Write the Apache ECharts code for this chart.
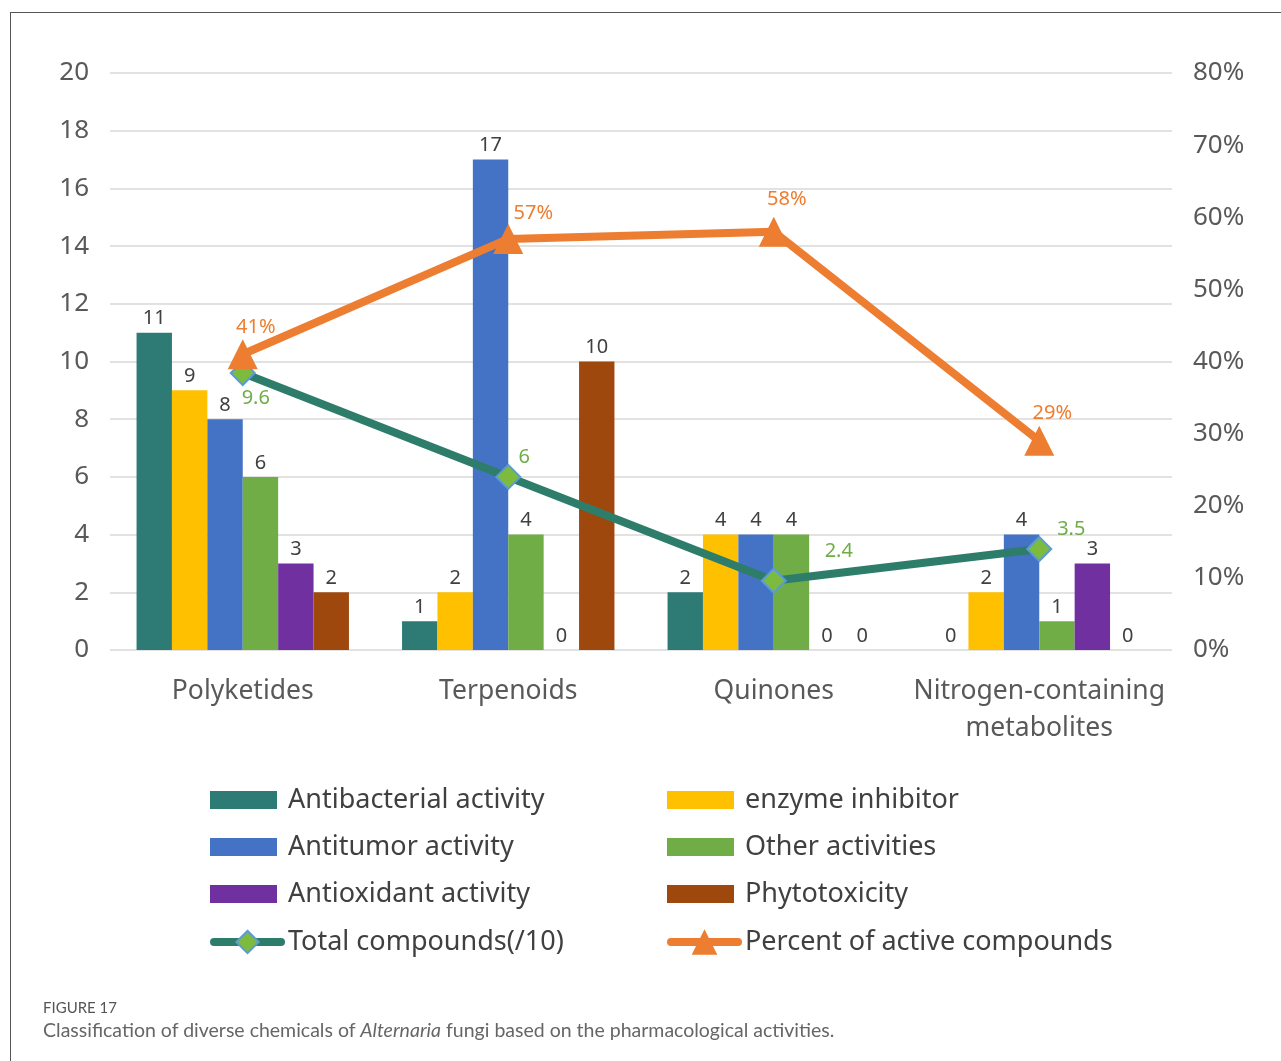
<!DOCTYPE html>
<html>
<head>
<meta charset="utf-8">
<script src="https://cdn.jsdelivr.net/npm/echarts@6/dist/echarts.min.js"></script>
<style>
  html, body { margin:0; padding:0; background:#fff; }
  #frame { position:absolute; left:10px; top:12px; width:1300px; height:1100px; border-left:1px solid #555; border-top:1px solid #555; }
  #chart { position:absolute; left:0; top:0; width:1281px; height:1061px; }
  #figlabel { position:absolute; left:43px; top:998px; font-family:Lato, "Open Sans", sans-serif; font-size:15px; color:#555; }
  #caption { position:absolute; left:43px; top:1018px; font-family:Lato, "Open Sans", sans-serif; font-size:19.5px; color:#666; }
</style>
</head>
<body>
<div id="frame"></div>
<div id="chart"></div>
<div id="figlabel">FIGURE 17</div>
<div id="caption">Classification of diverse chemicals of <i>Alternaria</i> fungi based on the pharmacological activities.</div>
<script>
const categories = ['Polyketides', 'Terpenoids', 'Quinones', 'Nitrogen-containing\nmetabolites'];
const antibacterial = [11, 1, 2, 0];
const enzymeInhibitor = [9, 2, 4, 2];
const antitumor = [8, 17, 4, 4];
const otherActivities = [6, 4, 4, 1];
const antioxidant = [3, 0, 0, 3];
const phytotoxicity = [2, 10, 0, 0];
const totalCompounds = [9.6, 6, 2.4, 3.5];
const percentActive = [41, 57, 58, 29];
const leftTicks = [0, 20, 2];
const rightTicks = [0, 80, 10];

const FONT = '"Noto Sans", "Open Sans", sans-serif';
const chart = echarts.init(document.getElementById('chart'));

const barLabel = { show: true, position: 'top', distance: 4, fontSize: 20, color: '#404040', fontFamily: FONT };
function bar(name, data, color) {
  return { name, type: 'bar', data, barGap: '0%', barCategoryGap: '20%', itemStyle: { color }, label: barLabel, yAxisIndex: 0 };
}
const totalOffsets = [[13, 25], [16, -20], [65, -29], [32, -20]];
const pctOffsets = [[13, -27], [25, -26], [13, -32], [13, -28]];
const legendText = { fontSize: 27, color: '#404040', lineHeight: 30, fontFamily: FONT, padding: [0, 0, 0, 6] };
const legendTextLine = Object.assign({}, legendText, { padding: [0, 0, 0, 2] });

chart.setOption({
  animation: false,
  textStyle: { fontFamily: FONT },
  grid: { left: 110, right: 109, top: 73, bottom: 411 },
  xAxis: {
    type: 'category', data: categories,
    axisLine: { show: false }, axisTick: { show: false },
    axisLabel: { interval: 0, fontSize: 26.5, color: '#595959', margin: 23, lineHeight: 37, fontFamily: FONT }
  },
  yAxis: [
    { type: 'value', min: leftTicks[0], max: leftTicks[1], interval: leftTicks[2],
      axisLine: { show: false }, axisTick: { show: false },
      axisLabel: { fontSize: 26, color: '#595959', margin: 21, fontFamily: FONT },
      splitLine: { lineStyle: { color: '#d9d9d9', width: 1.5 } } },
    { type: 'value', min: rightTicks[0], max: rightTicks[1], interval: rightTicks[2],
      axisLine: { show: false }, axisTick: { show: false },
      axisLabel: { fontSize: 26, color: '#595959', margin: 21, formatter: '{value}%', fontFamily: FONT },
      splitLine: { show: false } }
  ],
  legend: [
    { orient: 'vertical', left: 205, top: 780, itemWidth: 67, itemHeight: 18, itemGap: 17, textStyle: legendText, icon: 'rect',
      data: ['Antibacterial activity', 'Antitumor activity', 'Antioxidant activity'] },
    { orient: 'vertical', left: 662, top: 780, itemWidth: 67, itemHeight: 18, itemGap: 17, textStyle: legendText, icon: 'rect',
      data: ['enzyme inhibitor', 'Other activities', 'Phytotoxicity'] },
    { orient: 'vertical', left: 205, top: 922, itemWidth: 67, itemHeight: 28, itemGap: 17, textStyle: legendTextLine,
      data: [{ name: 'Total compounds(/10)', lineStyle: { width: 8, cap: 'round' } }] },
    { orient: 'vertical', left: 662, top: 922, itemWidth: 67, itemHeight: 32, itemGap: 17, textStyle: legendTextLine,
      data: [{ name: 'Percent of active compounds', lineStyle: { width: 8, cap: 'round' } }] }
  ],
  series: [
    bar('Antibacterial activity', antibacterial, '#2E7B76'),
    bar('enzyme inhibitor', enzymeInhibitor, '#FFC000'),
    bar('Antitumor activity', antitumor, '#4472C4'),
    bar('Other activities', otherActivities, '#70AD47'),
    bar('Antioxidant activity', antioxidant, '#7030A0'),
    bar('Phytotoxicity', phytotoxicity, '#9E480E'),
    { name: 'Total compounds(/10)', type: 'line', yAxisIndex: 0, z: 5,
      data: totalCompounds.map((v, i) => ({ value: v, label: { offset: totalOffsets[i] } })),
      lineStyle: { color: '#2E7D6B', width: 8 },
      itemStyle: { color: '#7DBB3F', borderColor: '#5B9BD5', borderWidth: 2 },
      symbol: 'diamond', symbolSize: 24, showAllSymbol: true,
      label: { show: true, position: 'inside', fontSize: 20, color: '#70AD47', fontFamily: FONT } },
    { name: 'Percent of active compounds', type: 'line', yAxisIndex: 1, z: 6,
      data: percentActive.map((v, i) => ({ value: v, label: { offset: pctOffsets[i] } })),
      lineStyle: { color: '#ED7D31', width: 8 },
      itemStyle: { color: '#ED7D31' },
      symbol: 'triangle', symbolSize: 30, showAllSymbol: true,
      label: { show: true, position: 'inside', fontSize: 20, color: '#ED7D31', formatter: '{c}%', fontFamily: FONT } }
  ]
});
</script>
</body>
</html>
